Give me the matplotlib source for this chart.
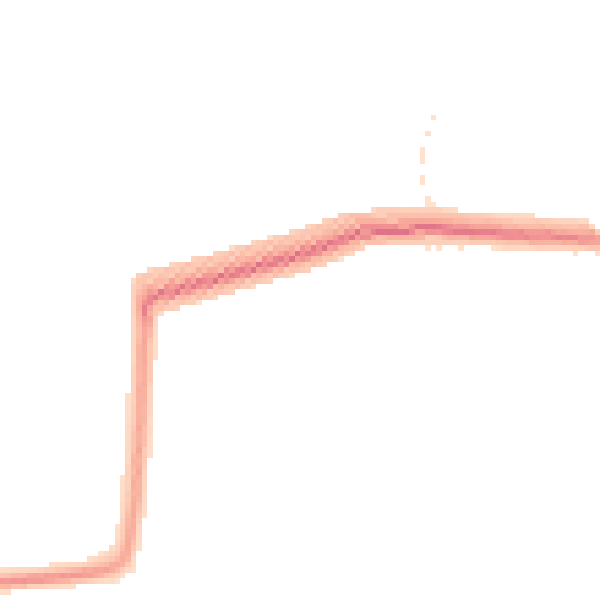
import numpy as np
import matplotlib
matplotlib.use("Agg")
from matplotlib import pyplot as plt
from matplotlib.colors import LinearSegmentedColormap, PowerNorm

# key points of the two main paths (x = time, y = value)
path_a_x = [0, 6.7, 15.0, 18.5, 20.3, 21.2, 22.2, 23.3, 23.7, 23.9, 25, 38.3, 51.7, 60, 71.7, 86.7, 100]
path_a_y = [3.3, 3.8, 4.7, 5.6, 6.8, 9.5, 16.7, 33.3, 45, 49, 50.5, 54.2, 58, 61.3, 62, 61.2, 60.5]
path_b_x = [0, 6.7, 15.0, 18.7, 20.9, 21.9, 23.0, 24.2, 24.6, 24.5, 25.2, 38.3, 51.7, 60, 71.7, 86.7, 100]
path_b_y = [2.6, 3.1, 4.0, 4.9, 6.4, 9.5, 16.7, 33.3, 45, 49, 50.5, 54.2, 58, 61.3, 62, 60.5, 59.8]

# how far the ensemble spreads round the paths at each key point
spread_x = [0.1, 0.1, 0.15, 0.2, 0.25, 0.25, 0.25, 0.25, 0.25, 0.3, 0.3, 0.3, 0.3, 0.3, 0.3, 0.3, 0.3]
spread_y = [0.22, 0.22, 0.25, 0.3, 0.3, 0.1, 0.1, 0.1, 0.2, 0.55, 0.6, 0.55, 0.55, 0.5, 0.5, 0.45, 0.42]
# share of the series that run through each key point
path_share = [0.4, 0.4, 0.4, 0.38, 0.35, 0.3, 0.3, 0.3, 0.35, 0.7, 0.95, 1.0, 1.0, 0.95, 0.9, 0.72, 0.62]

# shift of a member and how many series follow it
member_shift = [-4, -3, -2, -1, 0, 1, 2, 3, 4, 5, 6]
member_count = [1, 1, 2, 4, 5, 4, 2, 2, 1, 1, 1]

# lone spike above the plateau, only a few samples
spike_x = [71.7, 72.6, 71.7, 70.9, 70.9, 70.9, 70.9, 70.9, 71.7, 72.6]
spike_y = [65.5, 65.5, 67.2, 69.6, 70.5, 73.2, 74.1, 75.0, 78.0, 80.8]

# a few stray samples just under the plateau
stray_x = [71.0, 73.5, 77.0, 82.5, 86.0, 89.5, 92.0, 95.5]
stray_y = [58.6, 58.6, 58.6, 58.6, 58.4, 58.2, 58.2, 58.0]

n_bins = 110
colors = ["#fee3cf", "#fcc9b3", "#f8ab9b", "#ef8e93", "#de7387"]

sx = np.array(spread_x)
sy = np.array(spread_y)
share = np.array(path_share)

xs, ys, ws = [], [], []
for px, py in [(path_a_x, path_a_y), (path_b_x, path_b_y)]:
    px = np.array(px)
    py = np.array(py)
    for s, c in zip(member_shift, member_count):
        mx = px - sx * s
        my = py + sy * s
        # walk along the path in small steps so every cell crossed gets counted
        seg = np.hypot(np.diff(mx), np.diff(my))
        dist = np.concatenate([[0], np.cumsum(seg)])
        t = np.arange(0, dist[-1], 0.05)
        xs.append(np.interp(t, dist, mx))
        ys.append(np.interp(t, dist, my))
        ws.append(c * np.interp(t, dist, share))

for ex, ey in [(spike_x, spike_y), (stray_x, stray_y)]:
    xs.append(np.array(ex))
    ys.append(np.array(ey))
    ws.append(np.ones(len(ex)))

xs = np.concatenate(xs)
ys = np.concatenate(ys)
ws = np.concatenate(ws)

edges = np.linspace(0, 100, n_bins + 1)
h, _, _ = np.histogram2d(xs, ys, bins=[edges, edges], weights=ws)
h = np.ma.masked_where(h <= 0, h)

cmap = LinearSegmentedColormap.from_list("band", colors)

fig = plt.figure(figsize=(6, 6), dpi=100)
ax = fig.add_axes([0, 0, 1, 1])
ax.pcolormesh(edges, edges, h.T, cmap=cmap,
              norm=PowerNorm(gamma=0.75, vmin=0, vmax=0.9 * h.max(), clip=True))
ax.set_xlim(0, 100)
ax.set_ylim(0, 100)
ax.axis("off")
fig.savefig("out.png", dpi=100, facecolor="white")
